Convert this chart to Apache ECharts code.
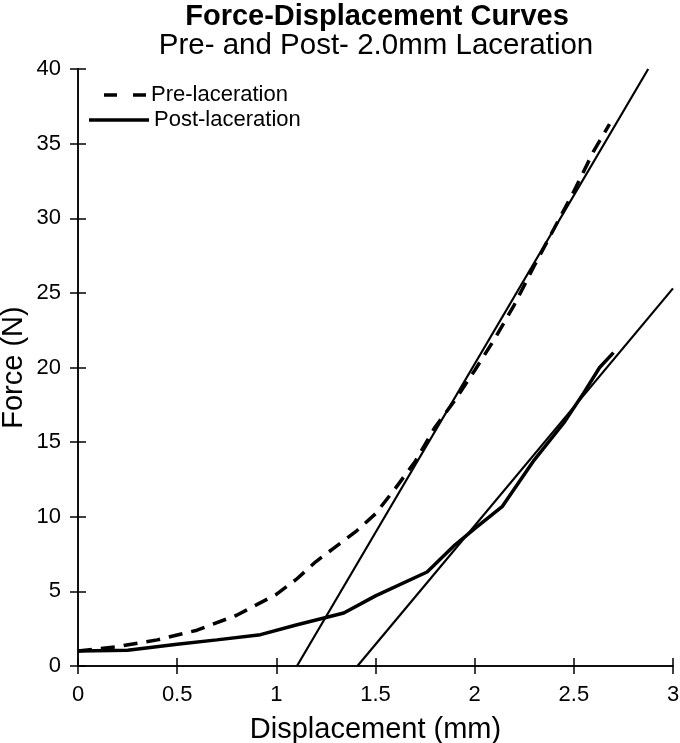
<!DOCTYPE html>
<html>
<head>
<meta charset="utf-8">
<script src="https://cdn.jsdelivr.net/npm/echarts@6/dist/echarts.min.js"></script>
<style>html,body{margin:0;padding:0;background:#fff}#c{width:680px;height:743px}</style>
</head>
<body>
<div id="c"></div>
<script>
var titleText = "Force-Displacement Curves";
var subtitleText = "Pre- and Post- 2.0mm Laceration";
var xName = "Displacement (mm)";
var yName = "Force (N)";
var preName = "Pre-laceration";
var postName = "Post-laceration";

var preCurve = [[0,1.0],[0.2,1.3],[0.4,1.75],[0.6,2.4],[0.8,3.4],[1.0,4.8],[1.1,5.8],[1.2,7.0],[1.3,8.0],[1.4,9.0],[1.5,10.2],[1.6,11.9],[1.7,13.7],[1.8,16.0],[1.9,17.8],[2.0,19.8],[2.1,21.9],[2.2,24.2],[2.3,26.8],[2.4,29.3],[2.5,31.8],[2.6,34.5],[2.68,36.3]];
var postCurve = [[0,1.0],[0.25,1.05],[0.5,1.45],[0.7,1.75],[0.92,2.1],[1.1,2.75],[1.34,3.55],[1.5,4.7],[1.76,6.3],[1.9,8.1],[2.0,9.2],[2.14,10.7],[2.3,13.8],[2.45,16.3],[2.55,18.3],[2.63,20.0],[2.7,21.0]];
var preFit = [[1.104,0],[2.875,40]];
var postFit = [[1.409,0],[3,25.3]];

var FONT = "Liberation Sans, Arial, sans-serif";
var chart = echarts.init(document.getElementById('c'));
var baseAxis = {
  axisLine: {show: true, lineStyle: {color: '#000', width: 1.5}},
  axisTick: {show: true, inside: true, length: 8, lineStyle: {color: '#000', width: 1.5}},
  splitLine: {show: false}
};
chart.setOption({
  animation: false,
  backgroundColor: '#fff',
  title: [
    {text: titleText, left: 372, top: -3, textAlign: 'center',
     textStyle: {fontFamily: FONT, fontSize: 29, fontWeight: 'bold', color: '#000'}},
    {text: subtitleText, left: 371, top: 26, textAlign: 'center',
     textStyle: {fontFamily: FONT, fontSize: 29.5, fontWeight: 'normal', color: '#000'}}
  ],
  legend: [
    {left: 99, top: 79, itemWidth: 42, itemHeight: 3.5,
     data: [{name: preName, icon: 'path://M0,0h13v3.5h-13z M29,0h13v3.5h-13z'}],
     itemStyle: {color: '#000', borderWidth: 0},
     textStyle: {fontFamily: FONT, fontSize: 22, color: '#000'}},
    {left: 84, top: 104, itemWidth: 60, itemHeight: 3.5,
     data: [{name: postName, icon: 'path://M0,0h60v3.5h-60z'}],
     itemStyle: {color: '#000', borderWidth: 0},
     textStyle: {fontFamily: FONT, fontSize: 22, color: '#000'}}
  ],
  grid: {left: 78, right: 7, top: 69, bottom: 77, containLabel: false, outerBoundsMode: 'none'},
  xAxis: [
    Object.assign({}, baseAxis, {type: 'value', min: 0, max: 3, interval: 0.5, position: 'bottom',
      name: xName, nameLocation: 'middle', nameGap: 49,
      nameTextStyle: {fontFamily: FONT, fontSize: 29, color: '#000'},
      axisLabel: {fontFamily: FONT, fontSize: 22, color: '#000', margin: 18}}),
    Object.assign({}, baseAxis, {type: 'value', min: 0, max: 3, interval: 0.5, position: 'top',
      axisLabel: {show: false}})
  ],
  yAxis: [
    Object.assign({}, baseAxis, {type: 'value', min: 0, max: 40, interval: 5, position: 'left',
      name: yName, nameLocation: 'middle', nameGap: 50, nameRotate: 90, nameMoveOverlap: false,
      nameTextStyle: {fontFamily: FONT, fontSize: 29, color: '#000'},
      axisLabel: {fontFamily: FONT, fontSize: 22, color: '#000', margin: 17}}),
    Object.assign({}, baseAxis, {type: 'value', min: 0, max: 40, interval: 5, position: 'right',
      axisLabel: {show: false}})
  ],
  series: [
    {name: preName, type: 'line', data: preCurve, symbol: 'none', smooth: false,
     lineStyle: {color: '#000', width: 3.5, type: [14, 9]}, itemStyle: {color: '#000'}, z: 3},
    {name: postName, type: 'line', data: postCurve, symbol: 'none',
     lineStyle: {color: '#000', width: 3.5, type: 'solid'}, itemStyle: {color: '#000'}, z: 3},
    {name: 'fit1', type: 'line', data: preFit, symbol: 'none',
     lineStyle: {color: '#000', width: 2.2}, z: 2},
    {name: 'fit2', type: 'line', data: postFit, symbol: 'none',
     lineStyle: {color: '#000', width: 2.2}, z: 2}
  ]
});
</script>
</body>
</html>
